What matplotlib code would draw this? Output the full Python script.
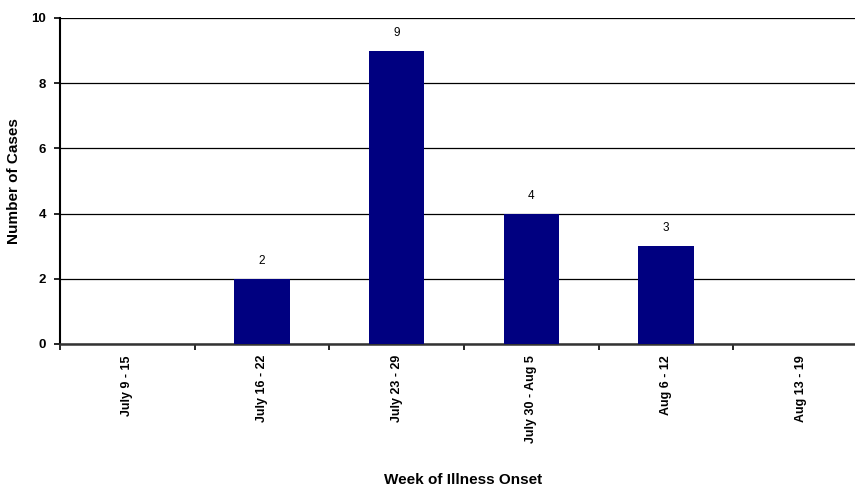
import matplotlib
matplotlib.use("Agg")
import matplotlib.pyplot as plt
import numpy as np

categories = ["July 9 - 15", "July 16 - 22", "July 23 - 29", "July 30 - Aug 5", "Aug 6 - 12", "Aug 13 - 19"]
cases = [0, 2, 9, 4, 3, 0]
yticks = [0, 2, 4, 6, 8, 10]

plt.rcParams['font.family'] = ['Liberation Sans', 'DejaVu Sans']

fig = plt.figure(figsize=(8.55, 4.87), dpi=100)
# axes extends slightly beyond the right edge (clipped, as in the reference)
ax = fig.add_axes([60/855, 1-344/487, 808/855, 326/487])

x = np.arange(len(categories))
ax.bar(x, cases, width=0.41, color='#000080', zorder=3)
for xi, v in zip(x, cases):
    if v > 0:
        ax.annotate(str(v), (xi, v), xytext=(0, 8.5), textcoords='offset points',
                    ha='center', va='bottom', fontsize=8.5)

ax.set_xlim(-0.5, len(categories) - 0.5)
ax.set_ylim(0, 10)
ax.set_yticks(yticks)
ax.set_yticklabels([str(t) for t in yticks], fontsize=9.5, fontweight='bold')
ax.yaxis.grid(True, color='black', linewidth=0.9, zorder=0)
ax.set_axisbelow(True)

ax.set_xticks(x)
ax.set_xticklabels(categories, rotation=90, fontsize=9, fontweight='bold', va='top')
ax.tick_params(axis='x', which='major', length=0, pad=8)
ax.set_xticks(np.arange(len(categories) + 1) - 0.5, minor=True)
ax.tick_params(axis='x', which='minor', length=4, width=1.2, direction='out')
ax.tick_params(axis='y', length=4, width=1.2, direction='out', pad=6)

for s in ['top', 'right']:
    ax.spines[s].set_visible(False)
ax.spines['left'].set_linewidth(1.5)
ax.spines['bottom'].set_linewidth(1.8)
ax.spines['bottom'].set_color('#333333')

ax.set_xlabel("Week of Illness Onset", fontsize=11, fontweight='bold')
ax.xaxis.set_label_coords((463-60)/808, -(480-344)/326)
ax.xaxis.label.set_va('center')
ax.set_ylabel("Number of Cases", fontsize=11, fontweight='bold')
ax.yaxis.set_label_coords(-(60-14)/808, (344-181)/326)
ax.yaxis.label.set_va('center')

fig.savefig("out.png", dpi=100)
